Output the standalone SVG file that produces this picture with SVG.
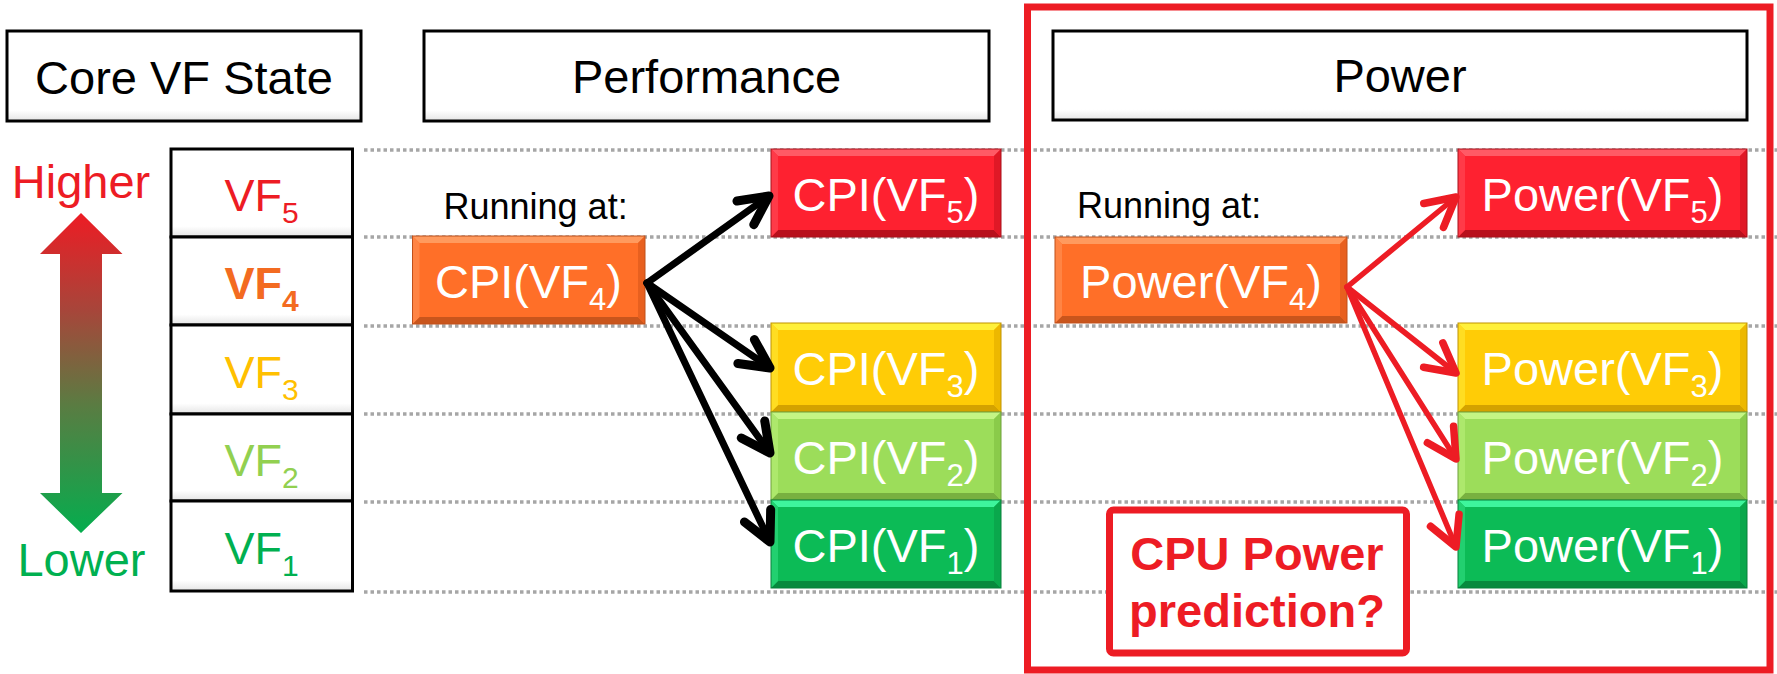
<svg xmlns="http://www.w3.org/2000/svg" width="1777" height="674" viewBox="0 0 1777 674">
  <style>
    text { font-family: "Liberation Sans", Arial, sans-serif; }
    .hdr { fill: url(#panelShade); stroke: #000; stroke-width: 3; }
    .hdr-t { font-size: 47px; fill: #000; text-anchor: middle; }
    .cell { fill: url(#panelShade); stroke: #000; stroke-width: 3; }
    .vf { font-size: 45px; text-anchor: middle; }
    .vf .s { font-size: 30px; }
    .run { font-size: 36px; fill: #000; }
    .grid { stroke: #A6A6A6; stroke-width: 3.5; stroke-dasharray: 3.5 3; fill: none; }
    .lbl { font-size: 47px; fill: #fff; text-anchor: middle; }
    .lbl .s { font-size: 31px; }
    .edge { fill: none; stroke-width: 1; }
    .orange .face { fill: #FF6F28; } .orange .top { fill: #FF9A5E; } .orange .lft { fill: #FF8444; }
    .orange .rgt { fill: #E8601F; } .orange .bot { fill: #C9551C; } .orange .edge { stroke: #C0501A; }
    .red .face { fill: #FE2130; } .red .top { fill: #FF5A66; } .red .lft { fill: #FF3A48; }
    .red .rgt { fill: #E01826; } .red .bot { fill: #B8101C; } .red .edge { stroke: #A8101A; }
    .yellow .face { fill: #FFCC06; } .yellow .top { fill: #FFF03A; } .yellow .lft { fill: #FFDD22; }
    .yellow .rgt { fill: #EDB800; } .yellow .bot { fill: #D4A200; } .yellow .edge { stroke: #C09400; }
    .lgreen .face { fill: #9CDD5A; } .lgreen .top { fill: #C4F585; } .lgreen .lft { fill: #ADE86C; }
    .lgreen .rgt { fill: #8ACB4A; } .lgreen .bot { fill: #78B040; } .lgreen .edge { stroke: #6FA03A; }
    .green .face { fill: #0CBB56; } .green .top { fill: #3EF59C; } .green .lft { fill: #22D070; }
    .green .rgt { fill: #0AA84C; } .green .bot { fill: #078A3E; } .green .edge { stroke: #06803A; }
    .link-k { stroke: #000; stroke-width: 7; fill: none; stroke-linecap: round; }
    .link-r { stroke: #ED1C24; stroke-width: 5.5; fill: none; stroke-linecap: round; }
    .frame { fill: none; stroke: #ED1C24; stroke-width: 7; }
    .note { fill: #fff; stroke: #ED1C24; stroke-width: 7; }
    .note-t { font-size: 47px; font-weight: bold; fill: #ED1C24; text-anchor: middle; }
  </style>
  <defs>
    <linearGradient id="panelShade" x1="0" y1="0" x2="0" y2="1">
      <stop offset="0" stop-color="#FFFFFF"/>
      <stop offset="0.88" stop-color="#FFFFFF"/>
      <stop offset="1" stop-color="#E4E4E4"/>
    </linearGradient>
    <linearGradient id="scaleGrad" gradientUnits="userSpaceOnUse" x1="0" y1="213" x2="0" y2="533">
      <stop offset="0" stop-color="#ED1C24"/>
      <stop offset="0.3" stop-color="#A8453A"/>
      <stop offset="0.6" stop-color="#5A7C42"/>
      <stop offset="1" stop-color="#05AD4E"/>
    </linearGradient>
    <marker id="headK" markerUnits="userSpaceOnUse" viewBox="-40 -22 48 44" markerWidth="48" markerHeight="44" refX="0" refY="0" orient="auto" overflow="visible">
      <path d="M-29,-14.5 L0,0 L-29,14.5" fill="none" stroke="#000" stroke-width="9" stroke-linecap="round" stroke-linejoin="round"/>
    </marker>
    <marker id="headR" markerUnits="userSpaceOnUse" viewBox="-40 -22 48 44" markerWidth="48" markerHeight="44" refX="0" refY="0" orient="auto" overflow="visible">
      <path d="M-29,-15.5 L0,0 L-29,15.5" fill="none" stroke="#ED1C24" stroke-width="7.5" stroke-linecap="round" stroke-linejoin="round"/>
    </marker>
  </defs>

  <rect width="1777" height="674" fill="#fff"/>

  <!-- dotted level guides -->
  <g id="guides" class="grid">
    <line x1="364" y1="150" x2="1777" y2="150"/>
    <line x1="364" y1="237" x2="1777" y2="237"/>
    <line x1="364" y1="326" x2="1777" y2="326"/>
    <line x1="364" y1="414" x2="1777" y2="414"/>
    <line x1="364" y1="502" x2="1777" y2="502"/>
    <line x1="364" y1="592" x2="1777" y2="592"/>
  </g>

  <!-- column headers -->
  <g id="hdr-core">
    <rect class="hdr" x="7" y="31" width="354" height="90"/>
    <text class="hdr-t" x="184" y="94">Core VF State</text>
  </g>
  <g id="hdr-perf">
    <rect class="hdr" x="424" y="31" width="565" height="90"/>
    <text class="hdr-t" x="706.5" y="93">Performance</text>
  </g>
  <g id="hdr-power">
    <rect class="hdr" x="1053" y="31" width="694" height="89"/>
    <text class="hdr-t" x="1400" y="92">Power</text>
  </g>

  <!-- higher / lower scale -->
  <g id="vf-scale">
    <polygon points="81,213 122.5,254 102,254 102,493 122.5,493 81,533 40,493 60,493 60,254 40,254" fill="url(#scaleGrad)"/>
    <text x="81" y="198" font-size="47" fill="#ED1C24" text-anchor="middle">Higher</text>
    <text x="81.5" y="576" font-size="47" fill="#00B050" text-anchor="middle">Lower</text>
  </g>

  <!-- VF state table -->
  <g id="vf5">
    <rect class="cell" x="171" y="149" width="181.5" height="88"/>
    <text class="vf" x="261.5" y="211" fill="#ED1C24">VF<tspan class="s" dy="12">5</tspan></text>
  </g>
  <g id="vf4">
    <rect class="cell" x="171" y="237" width="181.5" height="88"/>
    <text class="vf" x="261.5" y="299" fill="#F36B21" font-weight="bold">VF<tspan class="s" dy="12">4</tspan></text>
  </g>
  <g id="vf3">
    <rect class="cell" x="171" y="325" width="181.5" height="89"/>
    <text class="vf" x="261.5" y="388" fill="#FFC000">VF<tspan class="s" dy="12">3</tspan></text>
  </g>
  <g id="vf2">
    <rect class="cell" x="171" y="414" width="181.5" height="87"/>
    <text class="vf" x="261.5" y="476" fill="#92D050">VF<tspan class="s" dy="12">2</tspan></text>
  </g>
  <g id="vf1">
    <rect class="cell" x="171" y="501" width="181.5" height="90"/>
    <text class="vf" x="261.5" y="564" fill="#00B050">VF<tspan class="s" dy="12">1</tspan></text>
  </g>

  <!-- performance column -->
  <text id="perf-running" class="run" x="443.5" y="219">Running at:</text>

  <g id="cpi-vf4" class="orange" transform="translate(412.5,236)">
    <rect class="face" width="232.5" height="88"/>
    <polygon class="top" points="0,0 232.5,0 225.5,7 7,7"/>
    <polygon class="bot" points="0,88 232.5,88 225.5,81 7,81"/>
    <polygon class="lft" points="0,0 7,7 7,81 0,88"/>
    <polygon class="rgt" points="232.5,0 225.5,7 225.5,81 232.5,88"/>
    <rect class="edge" width="232.5" height="88"/>
    <text class="lbl" x="116" y="62">CPI(VF<tspan class="s" dy="12">4</tspan><tspan dy="-12">)</tspan></text>
  </g>
  <g id="cpi-vf5" class="red" transform="translate(771,149)">
    <rect class="face" width="230" height="88"/>
    <polygon class="top" points="0,0 230,0 223,7 7,7"/>
    <polygon class="bot" points="0,88 230,88 223,81 7,81"/>
    <polygon class="lft" points="0,0 7,7 7,81 0,88"/>
    <polygon class="rgt" points="230,0 223,7 223,81 230,88"/>
    <rect class="edge" width="230" height="88"/>
    <text class="lbl" x="115" y="62">CPI(VF<tspan class="s" dy="12">5</tspan><tspan dy="-12">)</tspan></text>
  </g>
  <g id="cpi-vf3" class="yellow" transform="translate(771,323)">
    <rect class="face" width="230" height="89"/>
    <polygon class="top" points="0,0 230,0 223,7 7,7"/>
    <polygon class="bot" points="0,89 230,89 223,82 7,82"/>
    <polygon class="lft" points="0,0 7,7 7,82 0,89"/>
    <polygon class="rgt" points="230,0 223,7 223,82 230,89"/>
    <rect class="edge" width="230" height="89"/>
    <text class="lbl" x="115" y="62">CPI(VF<tspan class="s" dy="12">3</tspan><tspan dy="-12">)</tspan></text>
  </g>
  <g id="cpi-vf2" class="lgreen" transform="translate(771,412)">
    <rect class="face" width="230" height="88"/>
    <polygon class="top" points="0,0 230,0 223,7 7,7"/>
    <polygon class="bot" points="0,88 230,88 223,81 7,81"/>
    <polygon class="lft" points="0,0 7,7 7,81 0,88"/>
    <polygon class="rgt" points="230,0 223,7 223,81 230,88"/>
    <rect class="edge" width="230" height="88"/>
    <text class="lbl" x="115" y="62">CPI(VF<tspan class="s" dy="12">2</tspan><tspan dy="-12">)</tspan></text>
  </g>
  <g id="cpi-vf1" class="green" transform="translate(771,500)">
    <rect class="face" width="230" height="88"/>
    <polygon class="top" points="0,0 230,0 223,7 7,7"/>
    <polygon class="bot" points="0,88 230,88 223,81 7,81"/>
    <polygon class="lft" points="0,0 7,7 7,81 0,88"/>
    <polygon class="rgt" points="230,0 223,7 223,81 230,88"/>
    <rect class="edge" width="230" height="88"/>
    <text class="lbl" x="115" y="62">CPI(VF<tspan class="s" dy="12">1</tspan><tspan dy="-12">)</tspan></text>
  </g>

  <!-- power column -->
  <text id="power-running" class="run" x="1077" y="218">Running at:</text>

  <g id="power-vf4" class="orange" transform="translate(1055,237)">
    <rect class="face" width="292" height="86"/>
    <polygon class="top" points="0,0 292,0 285,7 7,7"/>
    <polygon class="bot" points="0,86 292,86 285,79 7,79"/>
    <polygon class="lft" points="0,0 7,7 7,79 0,86"/>
    <polygon class="rgt" points="292,0 285,7 285,79 292,86"/>
    <rect class="edge" width="292" height="86"/>
    <text class="lbl" x="146" y="61">Power(VF<tspan class="s" dy="12">4</tspan><tspan dy="-12">)</tspan></text>
  </g>
  <g id="power-vf5" class="red" transform="translate(1458,149)">
    <rect class="face" width="289" height="88"/>
    <polygon class="top" points="0,0 289,0 282,7 7,7"/>
    <polygon class="bot" points="0,88 289,88 282,81 7,81"/>
    <polygon class="lft" points="0,0 7,7 7,81 0,88"/>
    <polygon class="rgt" points="289,0 282,7 282,81 289,88"/>
    <rect class="edge" width="289" height="88"/>
    <text class="lbl" x="144.5" y="62">Power(VF<tspan class="s" dy="12">5</tspan><tspan dy="-12">)</tspan></text>
  </g>
  <g id="power-vf3" class="yellow" transform="translate(1458,323)">
    <rect class="face" width="289" height="89"/>
    <polygon class="top" points="0,0 289,0 282,7 7,7"/>
    <polygon class="bot" points="0,89 289,89 282,82 7,82"/>
    <polygon class="lft" points="0,0 7,7 7,82 0,89"/>
    <polygon class="rgt" points="289,0 282,7 282,82 289,89"/>
    <rect class="edge" width="289" height="89"/>
    <text class="lbl" x="144.5" y="62">Power(VF<tspan class="s" dy="12">3</tspan><tspan dy="-12">)</tspan></text>
  </g>
  <g id="power-vf2" class="lgreen" transform="translate(1458,412)">
    <rect class="face" width="289" height="88"/>
    <polygon class="top" points="0,0 289,0 282,7 7,7"/>
    <polygon class="bot" points="0,88 289,88 282,81 7,81"/>
    <polygon class="lft" points="0,0 7,7 7,81 0,88"/>
    <polygon class="rgt" points="289,0 282,7 282,81 289,88"/>
    <rect class="edge" width="289" height="88"/>
    <text class="lbl" x="144.5" y="62">Power(VF<tspan class="s" dy="12">2</tspan><tspan dy="-12">)</tspan></text>
  </g>
  <g id="power-vf1" class="green" transform="translate(1458,500)">
    <rect class="face" width="289" height="88"/>
    <polygon class="top" points="0,0 289,0 282,7 7,7"/>
    <polygon class="bot" points="0,88 289,88 282,81 7,81"/>
    <polygon class="lft" points="0,0 7,7 7,81 0,88"/>
    <polygon class="rgt" points="289,0 282,7 282,81 289,88"/>
    <rect class="edge" width="289" height="88"/>
    <text class="lbl" x="144.5" y="62">Power(VF<tspan class="s" dy="12">1</tspan><tspan dy="-12">)</tspan></text>
  </g>

  <!-- prediction callout -->
  <g id="cpu-power-note">
    <rect class="note" x="1109.5" y="510" width="297" height="143" rx="4"/>
    <text class="note-t" x="1257" y="570">CPU Power</text>
    <text class="note-t" x="1257" y="627">prediction?</text>
  </g>

  <!-- outline around the power column -->
  <rect id="power-frame" class="frame" x="1027.5" y="7" width="742.5" height="663"/>

  <!-- connectors: current VF state to the other states -->
  <g id="connectors">
    <g id="perf-links">
      <line class="link-k" x1="647" y1="283" x2="769" y2="196" marker-end="url(#headK)"/>
      <line class="link-k" x1="647" y1="283" x2="770" y2="368" marker-end="url(#headK)"/>
      <line class="link-k" x1="647" y1="283" x2="770" y2="453" marker-end="url(#headK)"/>
      <line class="link-k" x1="647" y1="283" x2="770" y2="542" marker-end="url(#headK)"/>
    </g>
    <g id="power-links">
      <line class="link-r" x1="1347" y1="287" x2="1456" y2="197" marker-end="url(#headR)"/>
      <line class="link-r" x1="1347" y1="287" x2="1456" y2="373" marker-end="url(#headR)"/>
      <line class="link-r" x1="1347" y1="287" x2="1456" y2="459" marker-end="url(#headR)"/>
      <line class="link-r" x1="1347" y1="287" x2="1456" y2="547" marker-end="url(#headR)"/>
    </g>
  </g>
</svg>
